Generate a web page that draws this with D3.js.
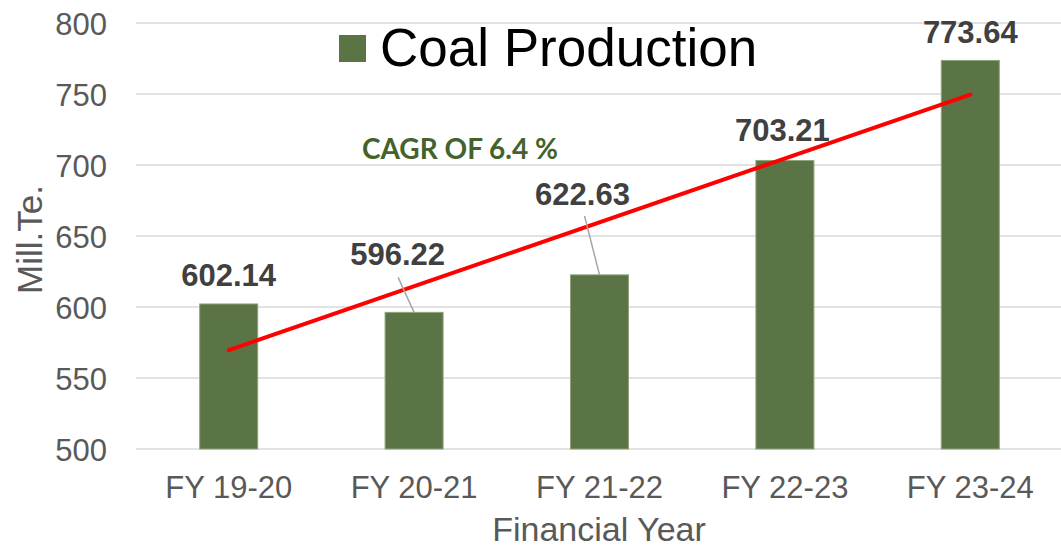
<!DOCTYPE html>
<html>
<head>
<meta charset="utf-8">
<script src="https://cdn.jsdelivr.net/npm/d3@7"></script>
<style>
  body { margin: 0; background: #fff; }
  svg { display: block; font-family: "Liberation Sans", Arial, sans-serif; }
</style>
</head>
<body>
<script>
// data
var years = ["FY 19-20", "FY 20-21", "FY 21-22", "FY 22-23", "FY 23-24"];
var production = [602.14, 596.22, 622.63, 703.21, 773.64];
var yTicks = [500, 550, 600, 650, 700, 750, 800];
var trendEnds = [569.6, 749.6];   // linear trend line, first and last year
var seriesName = "Coal Production";
var cagrText = "CAGR OF 6.4 %";

var w = 1061;
var h = 548;

// label placement (px from top centre of each bar)
var labelShift = [
  { dx: 0, dy: -18, lead: null },
  { dx: -16.5, dy: -47, lead: [-16, -35] },
  { dx: -17, dy: -70, lead: [-15, -59] },
  { dx: -2.5, dy: -19, lead: null },
  { dx: 0, dy: -17.5, lead: null }
];

var barColor = "#5b7446";

var svg = d3.select("body")
  .append("svg")
  .attr("width", w)
  .attr("height", h);

var x = d3.scaleBand()
  .domain(years)
  .range([136, 1063])
  .paddingInner(0.687)
  .paddingOuter(0.3435);

var y = d3.scaleLinear()
  .domain([500, 800])
  .range([449, 23]);

function cx(i) { return x(years[i]) + x.bandwidth() / 2; }

// gridlines
svg.append("g")
  .selectAll("line")
  .data(yTicks)
  .enter()
  .append("line")
  .attr("x1", 136)
  .attr("x2", w)
  .attr("y1", function(d) { return y(d); })
  .attr("y2", function(d) { return y(d); })
  .style("stroke", "#d9d9d9")
  .style("stroke-width", 1.5);

// y axis labels
var yAxis = d3.axisLeft(y).tickValues(yTicks).tickSize(0).tickPadding(0);
var gy = svg.append("g")
  .attr("transform", "translate(107,0)")
  .call(yAxis);
gy.select(".domain").remove();
gy.selectAll("text")
  .attr("dy", "0.36em")
  .style("font-family", "'Liberation Sans', Arial, sans-serif")
  .style("font-size", "31px")
  .style("fill", "#595959");

// x axis labels
var xAxis = d3.axisBottom(x).tickSize(0).tickPadding(0);
var gx = svg.append("g")
  .attr("transform", "translate(0,498)")
  .call(xAxis);
gx.select(".domain").remove();
gx.selectAll("text")
  .attr("y", 0)
  .attr("dy", 0)
  .style("font-family", "'Liberation Sans', Arial, sans-serif")
  .style("font-size", "31px")
  .style("fill", "#595959");

// bars
svg.append("g")
  .selectAll("rect")
  .data(production)
  .enter()
  .append("rect")
  .attr("x", function(d, i) { return x(years[i]); })
  .attr("y", function(d) { return y(d); })
  .attr("width", x.bandwidth())
  .attr("height", function(d) { return y(500) - y(d); })
  .style("fill", barColor)
  .style("stroke", "#8ea47c")
  .style("stroke-width", 1);

// trend line
var last = years.length - 1;
svg.append("line")
  .attr("x1", cx(0))
  .attr("y1", y(trendEnds[0]))
  .attr("x2", cx(last))
  .attr("y2", y(trendEnds[1]))
  .style("stroke", "#ff0000")
  .style("stroke-width", 4)
  .style("stroke-linecap", "round");

// leader lines
svg.append("g")
  .selectAll("line")
  .data(production.filter(function(d, i) { return labelShift[i].lead; }))
  .enter()
  .append("line")
  .each(function(d) {
    var i = production.indexOf(d);
    var s = labelShift[i].lead;
    d3.select(this)
      .attr("x1", cx(i) + s[0])
      .attr("y1", y(d) + s[1])
      .attr("x2", cx(i))
      .attr("y2", y(d));
  })
  .style("stroke", "#a6a6a6")
  .style("stroke-width", 1.5);

// data labels
svg.append("g")
  .selectAll("text")
  .data(production)
  .enter()
  .append("text")
  .attr("x", function(d, i) { return cx(i) + labelShift[i].dx; })
  .attr("y", function(d, i) { return y(d) + labelShift[i].dy; })
  .attr("text-anchor", "middle")
  .style("font-size", "31px")
  .style("font-weight", "bold")
  .style("fill", "#404040")
  .text(function(d) { return d.toFixed(2); });

// axis titles
svg.append("text")
  .attr("transform", "translate(42,239.5) rotate(-90)")
  .attr("text-anchor", "middle")
  .style("font-size", "35px")
  .style("fill", "#595959")
  .text("Mill.Te.");

svg.append("text")
  .attr("x", 599)
  .attr("y", 541)
  .attr("text-anchor", "middle")
  .style("font-size", "34px")
  .style("fill", "#595959")
  .text("Financial Year");

// legend
svg.append("rect")
  .attr("x", 339)
  .attr("y", 35)
  .attr("width", 27)
  .attr("height", 27)
  .style("fill", barColor);

svg.append("text")
  .attr("x", 380)
  .attr("y", 66)
  .style("font-size", "53px")
  .style("fill", "#000")
  .text(seriesName);

// CAGR note
svg.append("text")
  .attr("x", 362)
  .attr("y", 159)
  .style("font-family", "Lato, 'Open Sans', sans-serif")
  .style("font-weight", "bold")
  .style("font-size", "28px")
  .style("fill", "#43632b")
  .text(cagrText);
</script>
</body>
</html>
